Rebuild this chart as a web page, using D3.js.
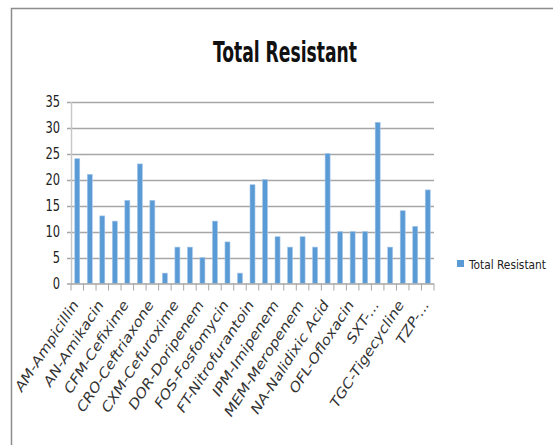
<!DOCTYPE html>
<html>
<head>
<meta charset="utf-8">
<script src="https://cdn.jsdelivr.net/npm/d3@7"></script>
<style>
  body { margin: 0; background: #fff; }
  svg { display: block; }
  text { font-family: "Liberation Sans Narrow", "DejaVu Sans Condensed", "Liberation Sans", Arial, sans-serif; }
</style>
</head>
<body>
<svg id="chart" width="553" height="445"></svg>
<script>
// ---- data ----
const categories = [
  "AM-Ampicillin", "AMC-Amoxicillin/Clavulanate", "AN-Amikacin", "CAZ-Ceftazidime",
  "CFM-Cefixime", "CIP-Ciprofloxacin", "CRO-Ceftriaxone", "CTX-Cefotaxime",
  "CXM-Cefuroxime", "CZ-Cefazolin", "DOR-Doripenem", "ETP-Ertapenem",
  "FOS-Fosfomycin", "FOX-Cefoxitin", "FT-Nitrofurantoin", "GEN-Gentamicin",
  "IPM-Imipenem", "LEV-Levofloxacin", "MEM-Meropenem", "MXF-Moxifloxacin",
  "NA-Nalidixic Acid", "NOR-Norfloxacin", "OFL-Ofloxacin", "PIP-Piperacillin",
  "SXT-...", "TE-Tetracycline", "TGC-Tigecycline", "TOB-Tobramycin", "TZP-..."
];
const totalResistant = [24, 21, 13, 12, 16, 23, 16, 2, 7, 7, 5, 12, 8, 2, 19, 20, 9, 7, 9, 7, 25, 10, 10, 10, 31, 7, 14, 11, 18];
const yTicks = [0, 5, 10, 15, 20, 25, 30, 35];
const seriesName = "Total Resistant";
const chartTitle = "Total Resistant";

// ---- layout ----
const svg = d3.select("#chart");
const pL = 71, pR = 434, pT = 101.5, pB = 283.5;

// chart frame
svg.append("path")
  .attr("d", "M11.5,445 L11.5,8.5 L553,8.5")
  .attr("fill", "none").attr("stroke", "#8c8c8c").attr("stroke-width", 1.5);

const x = d3.scaleBand().domain(categories).range([pL, pR]).paddingInner(0.6).paddingOuter(0.3);
const y = d3.scaleLinear().domain([0, 35]).range([pB, pT]);

// gridlines
svg.append("g").selectAll("line").data(yTicks.filter(d => d > 0)).join("line")
  .attr("x1", pL - 4).attr("x2", pR)
  .attr("y1", d => Math.round(y(d)) + 0.5).attr("y2", d => Math.round(y(d)) + 0.5)
  .attr("stroke", "#a6a6a6").attr("stroke-width", 1.5);

// y axis
const yAxis = d3.axisLeft(y).tickValues(yTicks).tickSize(0).tickPadding(11);
const gy = svg.append("g").attr("transform", `translate(${pL},0)`).call(yAxis);
gy.select(".domain").attr("stroke", "#c8c8c8").attr("stroke-width", 1.5);
gy.selectAll("text").attr("font-size", 15).attr("fill", "#222")
  .each(function () { const n = this.getComputedTextLength(); d3.select(this).attr("textLength", n * 0.85).attr("lengthAdjust", "spacingAndGlyphs"); });

// bars
svg.append("g").selectAll("rect").data(totalResistant).join("rect")
  .attr("x", (d, i) => x(categories[i]))
  .attr("y", d => y(d))
  .attr("width", x.bandwidth())
  .attr("height", d => y(0) - y(d))
  .attr("fill", "#5b9bd5")
  .attr("stroke", "#a9c8ea").attr("stroke-width", 0.6);

// x axis (ticks between categories)
const tickPos = d3.range(categories.length + 1).map(i => pL + i * (pR - pL) / categories.length);
svg.append("line").attr("x1", pL - 4).attr("x2", pR).attr("y1", pB + 0.5).attr("y2", pB + 0.5)
  .attr("stroke", "#a6a6a6").attr("stroke-width", 1.5);
svg.append("g").selectAll("line").data(tickPos).join("line")
  .attr("x1", d => d).attr("x2", d => d)
  .attr("y1", pB).attr("y2", pB + 7)
  .attr("stroke", "#a6a6a6").attr("stroke-width", 1);

// x labels (every other category)
const xl = svg.append("g").selectAll("text").data(categories.filter((c, i) => i % 2 === 0)).join("text")
  .attr("transform", d => `translate(${x(d) + x.bandwidth() / 2 + 2},${pB + 21}) rotate(-57)`)
  .attr("text-anchor", "end")
  .attr("font-size", 13.5)
  .attr("font-style", "italic")
  .attr("fill", "#333")
  .text(d => d);
const refW = xl.filter(d => d === categories[0]).node().getComputedTextLength();
const k = 105 / refW;
xl.each(function () { const n = this.getComputedTextLength(); d3.select(this).attr("textLength", n * k).attr("lengthAdjust", "spacingAndGlyphs"); });

// title
svg.append("text").attr("x", 285).attr("y", 62).attr("text-anchor", "middle")
  .attr("font-size", 29).attr("font-weight", "bold").attr("fill", "#111")
  .attr("textLength", 144).attr("lengthAdjust", "spacingAndGlyphs")
  .text(chartTitle);

// legend
const lg = svg.append("g").attr("transform", "translate(457,260)");
lg.append("rect").attr("width", 7).attr("height", 7).attr("fill", "#5b9bd5");
lg.append("text").attr("x", 12).attr("y", 8.5).attr("font-size", 13).attr("fill", "#222")
  .attr("textLength", 77).attr("lengthAdjust", "spacingAndGlyphs").text(seriesName);
</script>
</body>
</html>
